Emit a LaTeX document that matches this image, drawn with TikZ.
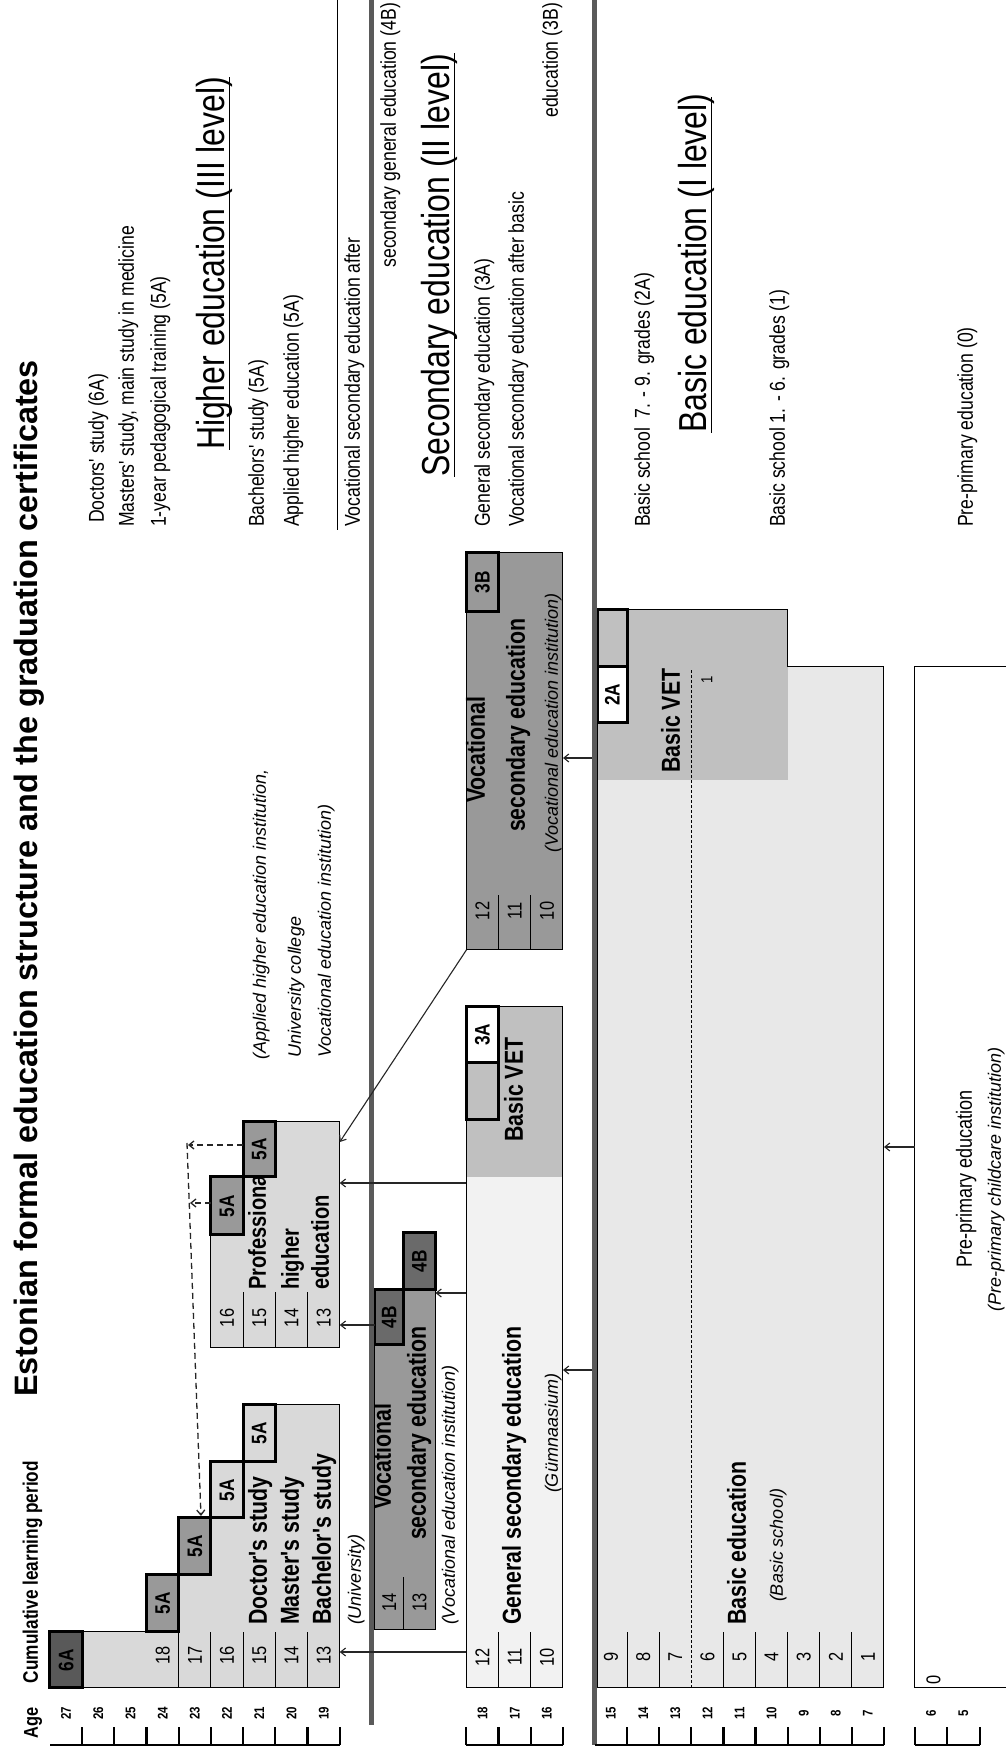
\documentclass[tikz,border=0pt]{standalone}
\usepackage{fontspec}
\setmainfont{Liberation Sans}
\newfontfamily\nar{Liberation Sans}[FakeStretch=0.82]
\newfontfamily\wid{Liberation Sans}
\usetikzlibrary{arrows.meta}
\newcommand\fsz[1]{\fontsize{#1}{#1}\selectfont}
\definecolor{chi}{HTML}{D9D9D9}
\definecolor{cmid}{HTML}{999999}
\definecolor{cdark}{HTML}{6A6A6A}
\definecolor{cdk}{HTML}{595959}
\definecolor{cvet}{HTML}{C0C0C0}
\definecolor{cgen}{HTML}{F2F2F2}
\definecolor{cbas}{HTML}{E8E8E8}
\definecolor{cbar}{HTML}{5A5A5A}
\begin{document}
\begin{tikzpicture}[x=1pt,y=1pt,rotate=90,transform shape,
  txt/.style={inner sep=0pt,outer sep=0pt},
  bx/.style={draw=black,line width=1pt},
  cert/.style={draw=black,line width=3pt},
  lab/.style={txt,font=\nar\fsz{20}},
  agel/.style={txt,font=\nar\bfseries\fsz{14}},
  bt/.style={txt,anchor=base west,font=\nar\bfseries\fsz{26}},
  itx/.style={txt,anchor=base west,font=\wid\itshape\fsz{18}},
  leg/.style={txt,anchor=base west,font=\nar\fsz{21.5}},
  bigt/.style={txt,anchor=base west,font=\nar\fsz{39}},
  certl/.style={txt,font=\nar\bfseries\fsz{21}},
  arr/.style={-{Straight Barb[length=5pt,width=8pt]},line width=1.1pt,draw=black!85},
  dsh/.style={dash pattern=on 6pt off 4pt,line width=1.3pt,draw=black!85,-{Straight Barb[length=5pt,width=8pt]}},
  sepline/.style={line width=5pt,draw=cbar},
  axl/.style={line width=2.2pt,draw=black}]
\useasboundingbox (0,0) rectangle (1751,1005);
\fill[white] (0,0) rectangle (1751,1005);

% ---------- Higher education regions ----------
\path[fill=chi,bx] (63,665.2) -- (63,922.8) -- (119,922.8) -- (119,826.2) -- (176,826.2) -- (176,794) -- (233,794) -- (233,761.8) -- (289,761.8) -- (289,729.6) -- (346,729.6) -- (346,665.2) -- cycle;
\foreach \y in {826.2,794,761.8,729.6,697.4} \draw[bx] (63,\y) -- (119,\y);
\foreach \n/\y in {18/842.3,17/810.1,16/777.9,15/745.7,14/713.5,13/681.3}
  \node[lab] (hr\n) at (96,\y) {\n};

\path[fill=chi,bx] (403,665.2) -- (403,794) -- (516,794) -- (516,761.8) -- (574,761.8) -- (574,729.6) -- (629,729.6) -- (629,665.2) -- cycle;
\foreach \y in {761.8,729.6,697.4} \draw[bx] (403,\y) -- (459,\y);
\foreach \n/\y in {16/777.9,15/745.7,14/713.5,13/681.3}
  \node[lab] (pr\n) at (433,\y) {\n};

% ---------- Vocational secondary after general (4B) ----------
\path[fill=cmid,bx] (121,569.5) -- (121,630) -- (406,630) -- (406,601.5) -- (461,601.5) -- (461,569.5) -- cycle;
\draw[bx] (121,601.5) -- (174,601.5);
\node[lab] (vr14) at (149,615.8) {14};
\node[lab] (vr13) at (149,585.5) {13};

% ---------- General secondary ----------
\path[fill=cgen] (63,442) rectangle (574,538.6);
\path[fill=cvet] (574,442) rectangle (744,538.6);
\draw[bx] (63,442) rectangle (744,538.6);
\foreach \y in {506.4,474.2} \draw[bx] (63,\y) -- (119,\y);
\foreach \n/\y in {12/522.5,11/490.3,10/458.1}
  \node[lab] (gr\n) at (94,\y) {\n};

% ---------- Vocational secondary after basic (3B) ----------
\draw[bx,fill=cmid] (801,442) rectangle (1198,538.6);
\foreach \y in {506.4,474.2} \draw[bx] (801,\y) -- (856,\y);
\foreach \n/\y in {12/522.5,11/490.3,10/458.1}
  \node[lab] (br\n) at (840,\y) {\n};

% ---------- Basic education ----------
\path[fill=cbas] (63,121) rectangle (1084,407.5);
\path[fill=cvet] (971,217.3) rectangle (1141,407.5);
\draw[bx] (63,121) -- (63,407.5) -- (1141,407.5) -- (1141,217.3) -- (1084,217.3) -- (1084,121) -- cycle;
\foreach \y in {153.1,185.2,217.3,249.4,281.5,345.7,377.8} \draw[bx] (63,\y) -- (119,\y);
\draw[line width=1pt,dash pattern=on 3pt off 2pt] (63,313.6) -- (1081,313.6);
\foreach \n/\y in {1/137.1,2/169.2,3/201.3,4/233.4,5/265.5,6/297.6,7/329.7,8/361.8,9/394}
  \node[lab] (kr\n) at (94,\y) {\n};
\node[txt,font=\nar\fsz{16}] (one) at (1071,298) {1};

% ---------- Pre-primary ----------
\draw[bx] (63,-5) -- (63,90) -- (1084,90) -- (1084,-5);
\node[lab] (zero) at (71,71.5) {0};

% ---------- Texts in boxes ----------
\node[txt,anchor=base west,font=\nar\bfseries\fsz{21}] (cumul) at (68,967) {Cumulative learning period};
\node[txt,anchor=base west,font=\nar\bfseries\fsz{20}] (agehd) at (13,967) {Age};
\node[txt,anchor=base west,font=\bfseries\fsz{32.4}] (title) at (354,967) {Estonian formal education structure and the graduation certificates};

\node[bt] (doc) at (126,738) {Doctor's study};
\node[bt] (mas) at (126,706) {Master's study};
\node[bt] (bac) at (126,674) {Bachelor's study};
\node[itx] (univ) at (126,644) {(University)};

\node[bt,font=\nar\bfseries\fsz{24.5}] (prof1) at (461,739) {Professional};
\node[bt,font=\nar\bfseries\fsz{24.5}] (prof2) at (461,706) {higher};
\node[bt,font=\nar\bfseries\fsz{24.5}] (prof3) at (461,676) {education};
\node[itx] (appl1) at (691,739) {(Applied higher education institution,};
\node[itx] (appl2) at (693,704) {University college};
\node[itx] (appl3) at (693,674) {Vocational education institution)};

\node[bt] (vs1) at (241,614) {Vocational};
\node[bt] (vs2) at (211,579) {secondary education};
\node[itx] (vs3) at (126,550) {(Vocational education institution)};

\node[bt] (gs1) at (126,484) {General secondary education};
\node[itx] (gs2) at (258,447) {(Gümnaasium)};
\node[bt] (bvet1) at (609,482) {Basic VET};

\node[bt] (vb1) at (948,520) {Vocational};
\node[bt] (vb2) at (919,480) {secondary education};
\node[itx] (vb3) at (898,447) {(Vocational education institution)};

\node[bt] (bvet2) at (978,325) {Basic VET};
\node[bt] (be1) at (126,259) {Basic education};
\node[itx] (be2) at (149,222) {(Basic school)};

\node[txt,anchor=base,font=\nar\fsz{22}] (pp1) at (572,33) {Pre-primary education};
\node[txt,anchor=base,font=\wid\itshape\fsz{18}] (pp2) at (572,4) {(Pre-primary childcare institution)};

% ---------- Certificate boxes ----------
\draw[cert,fill=cdk] (63,922.8) rectangle (119,955);
\node[certl] (c6a) at (91,938.9) {6A};
\draw[cert,fill=cmid] (119,826.2) rectangle (176,858.4);
\node[certl] (c5a1) at (147.5,842.3) {5A};
\draw[cert,fill=cmid] (176,794) rectangle (233,826.2);
\node[certl] (c5a2) at (204.5,810.1) {5A};
\draw[cert,fill=chi] (233,761.8) rectangle (289,794);
\node[certl] (c5a3) at (261,777.9) {5A};
\draw[cert,fill=chi] (289,729.6) rectangle (346,761.8);
\node[certl] (c5a4) at (317.5,745.7) {5A};

\draw[cert,fill=cmid] (516,761.8) rectangle (574,794);
\node[certl] (c5a5) at (545,777.9) {5A};
\draw[cert,fill=cmid] (574,729.6) rectangle (629,761.8);
\node[certl] (c5a6) at (601.5,745.7) {5A};

\draw[cert,fill=cdark] (406,601.5) rectangle (461,630);
\node[certl] (c4b1) at (433.5,615.8) {4B};
\draw[cert,fill=cdark] (461,569.5) rectangle (518,601.5);
\node[certl] (c4b2) at (489.5,585.5) {4B};

\draw[cert,fill=cvet] (631,506.4) rectangle (688,538.6);
\draw[cert,fill=white] (688,506.4) rectangle (744,538.6);
\node[certl] (c3a) at (716,522.5) {3A};

\draw[cert,fill=cmid] (1139,506.4) rectangle (1198,538.6);
\node[certl] (c3b) at (1168.5,522.5) {3B};

\draw[cert,fill=white] (1028,377.8) rectangle (1084,407.5);
\node[certl] (c2a) at (1056,392.6) {2A};
\draw[cert,fill=cvet] (1084,377.8) rectangle (1141,407.5);

% ---------- Separator bars ----------
\draw[sepline] (26,633) -- (1751,633);
\draw[sepline] (6,410) -- (1751,410);

% ---------- Arrows ----------
\coordinate (a1s) at (99,538.6);  \coordinate (a1e) at (99,665.2);
\coordinate (a2s) at (426,630);   \coordinate (a2e) at (426,665.2);
\coordinate (a3s) at (568,538.6); \coordinate (a3e) at (568,665.2);
\coordinate (a4s) at (801,538.6); \coordinate (a4e) at (609,665.2);
\coordinate (a5s) at (458,538.6); \coordinate (a5e) at (458,569.5);
\coordinate (a6s) at (381,412.5); \coordinate (a6e) at (381,442);
\coordinate (a7s) at (993,412.5); \coordinate (a7e) at (993,442);
\coordinate (a8s) at (604,90);    \coordinate (a8e) at (604,121);
\foreach \i in {1,...,8} \draw[arr] (a\i s) -- (a\i e);

\coordinate (d1s) at (548,794);   \coordinate (d1e) at (548,815);
\coordinate (d2s) at (606,761.8); \coordinate (d2e) at (606,817);
\coordinate (d3s) at (608,818);   \coordinate (d3e) at (235,804);
\draw[dsh] (d1s) -- (d1e);
\draw[dsh] (d2s) -- (d2e);
\draw[dsh] (d3s) -- (d3e);

% ---------- Age axis ----------
\draw[axl] (6,665.2) -- (6,955);
\foreach \y in {922.8,890.6,858.4,826.2,794,761.8,729.6,697.4,665.2} \draw[axl] (6,\y) -- (24,\y);
\draw[axl] (6,442) -- (6,538.6);
\foreach \y in {442,474.2,506.4,538.6} \draw[axl] (6,\y) -- (24,\y);
\draw[axl] (6,121) -- (6,410);
\foreach \y in {121,153.1,185.2,217.3,249.4,281.5,313.6,345.7,377.8} \draw[axl] (6,\y) -- (24,\y);
\draw[axl] (6,25) -- (6,90);
\foreach \y in {25,58,90} \draw[axl] (6,\y) -- (24,\y);
\foreach \a/\y in {27/938.9,26/906.7,25/874.5,24/842.3,23/810.1,22/777.9,21/745.7,20/713.5,19/681.3,
  18/522.5,17/490.3,16/458.1,15/394,14/361.8,13/329.7,12/297.6,11/265.5,10/233.4,9/201.3,8/169.2,7/137.1,6/74,5/41.5}
  \node[agel] (age\a) at (38,\y) {\a};

% ---------- Legend ----------
\node[leg] (l1) at (1228,901) {Doctors' study (6A)};
\node[leg] (l2) at (1224,871) {Masters' study, main study in medicine};
\node[leg] (l3) at (1224,839) {1-year pedagogical training (5A)};
\node[bigt] (h3) at (1301,780) {Higher education (III level)};
\draw[line width=1pt] (1301,775) -- (1674,775);
\node[leg] (l4) at (1224,741) {Bachelors' study (5A)};
\node[leg] (l5) at (1224,706) {Applied higher education (5A)};
\draw[line width=1pt] (1221,667) -- (1751,667);
\node[leg] (l6) at (1224,645) {Vocational secondary education after};
\node[leg,anchor=base east] (l7) at (1748,609) {secondary general education (4B)};
\node[bigt] (h2) at (1274,555) {Secondary education (II level)};
\draw[line width=1pt] (1274,550) -- (1698,550);
\node[leg] (l8) at (1224,515) {General secondary education (3A)};
\node[leg] (l9) at (1224,481) {Vocational secondary education after basic};
\node[leg,anchor=base east] (l10) at (1748,447) {education (3B)};
\node[leg] (l11) at (1224,355) {Basic school\ \ 7. - 9. grades (2A)};
\node[bigt] (h1) at (1318,298) {Basic education (I level)};
\draw[line width=1pt] (1318,293) -- (1654,293);
\node[leg] (l12) at (1224,220) {Basic school 1. - 6. grades (1)};
\node[leg] (l13) at (1224,32) {Pre-primary education (0)};
\end{tikzpicture}
\end{document}
